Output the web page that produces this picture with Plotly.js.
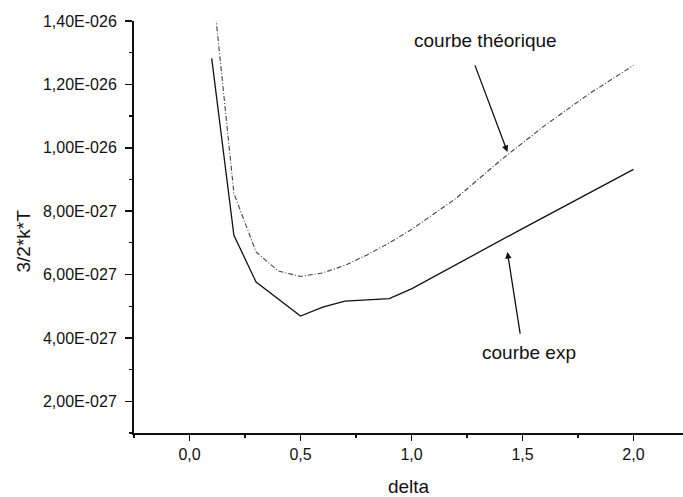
<!DOCTYPE html>
<html>
<head>
<meta charset="utf-8">
<script src="https://cdn.plot.ly/plotly-3.0.1.min.js"></script>
<style>
  html, body { margin: 0; padding: 0; background: #ffffff; }
  #chart { width: 683px; height: 497px; }
</style>
</head>
<body>
<div id="chart"></div>
<script>
// ---- data ----
const deltaExp = [0.1, 0.2, 0.3, 0.5, 0.6, 0.7, 0.9, 1.0, 1.5, 2.0];
const energyExp = [1.282e-26, 7.24e-27, 5.76e-27, 4.69e-27, 4.97e-27, 5.16e-27, 5.24e-27, 5.55e-27, 7.45e-27, 9.32e-27];

const deltaTheo = [0.1, 0.2, 0.3, 0.4, 0.5, 0.6, 0.7, 0.8, 0.9, 1.0, 1.2, 1.4, 1.6, 1.8, 2.0];
const energyTheo = [1.54e-26, 8.56e-27, 6.71e-27, 6.11e-27, 5.94e-27, 6.05e-27, 6.29e-27, 6.62e-27, 7.0e-27, 7.42e-27, 8.4e-27, 9.6e-27, 10.7e-27, 11.7e-27, 12.6e-27];

const xTickVals = [0, 0.5, 1.0, 1.5, 2.0];
const xTickText = ["0,0", "0,5", "1,0", "1,5", "2,0"];
const yTickVals = [2e-27, 4e-27, 6e-27, 8e-27, 1.0e-26, 1.2e-26, 1.4e-26];
const yTickText = ["2,00E-027", "4,00E-027", "6,00E-027", "8,00E-027", "1,00E-026", "1,20E-026", "1,40E-026"];

const xTitle = "delta";
const yTitle = "3/2*k*T";
const labelTheo = "courbe théorique";
const labelExp = "courbe exp";

const FONT = "'Liberation Sans', Arial, Helvetica, sans-serif";

const traces = [
  {
    x: deltaExp, y: energyExp, type: "scatter", mode: "lines",
    name: labelExp,
    line: { color: "#111111", width: 1.3 },
    hoverinfo: "skip"
  },
  {
    x: deltaTheo, y: energyTheo, type: "scatter", mode: "lines",
    name: labelTheo,
    line: { color: "#444444", width: 1.1, dash: "5px,2px,1px,2px" },
    hoverinfo: "skip"
  }
];

const layout = {
  width: 683, height: 497,
  margin: { l: 134, r: 0, t: 21, b: 64 },
  paper_bgcolor: "#ffffff", plot_bgcolor: "#ffffff",
  showlegend: false,
  font: { family: FONT, size: 16, color: "#111111" },
  xaxis: {
    range: [-0.25, 2.223],
    tickmode: "array", tickvals: xTickVals, ticktext: xTickText,
    ticks: "outside", ticklen: 6, tickwidth: 1.5, tickcolor: "#111111",
    minor: { tickmode: "linear", tick0: 0, dtick: 0.25, ticks: "outside", ticklen: 3, tickwidth: 1.2, tickcolor: "#111111", showgrid: false },
    showline: true, linecolor: "#111111", linewidth: 2,
    showgrid: false, zeroline: false,
    tickfont: { family: FONT, size: 16, color: "#111111" },
    title: { text: xTitle, font: { family: FONT, size: 19, color: "#111111" }, standoff: 18 }
  },
  yaxis: {
    range: [1e-27, 1.4e-26],
    tickmode: "array", tickvals: yTickVals, ticktext: yTickText,
    ticks: "outside", ticklen: 7, tickwidth: 1.5, tickcolor: "#111111",
    ticklabelstandoff: 5,
    minor: { tickmode: "linear", tick0: 0, dtick: 1e-27, ticks: "outside", ticklen: 3, tickwidth: 1.2, tickcolor: "#111111", showgrid: false },
    showline: true, linecolor: "#111111", linewidth: 2,
    showgrid: false, zeroline: false,
    tickfont: { family: FONT, size: 16, color: "#111111" }
  },
  annotations: [
    {
      text: yTitle, textangle: -90, showarrow: false,
      xref: "paper", yref: "paper", x: -0.202, y: 0.465,
      xanchor: "center", yanchor: "middle",
      font: { family: FONT, size: 19, color: "#111111" }
    },
    {
      text: labelTheo, showarrow: false,
      xref: "x", yref: "y", x: 1.334, y: 1.337e-26,
      xanchor: "center", yanchor: "middle",
      font: { family: FONT, size: 19, color: "#111111" }
    },
    {
      text: "", showarrow: true, arrowhead: 2, arrowsize: 1, arrowwidth: 1.3, arrowcolor: "#111111",
      xref: "x", yref: "y", x: 1.432, y: 9.87e-27, ax: -33, ay: -88
    },
    {
      text: labelExp, showarrow: false,
      xref: "x", yref: "y", x: 1.53, y: 3.54e-27,
      xanchor: "center", yanchor: "middle",
      font: { family: FONT, size: 19, color: "#111111" }
    },
    {
      text: "", showarrow: true, arrowhead: 2, arrowsize: 1, arrowwidth: 1.3, arrowcolor: "#111111",
      xref: "x", yref: "y", x: 1.432, y: 6.71e-27, ax: 13, ay: 83
    }
  ]
};

Plotly.newPlot("chart", traces, layout, { staticPlot: true, displayModeBar: false });
</script>
</body>
</html>
